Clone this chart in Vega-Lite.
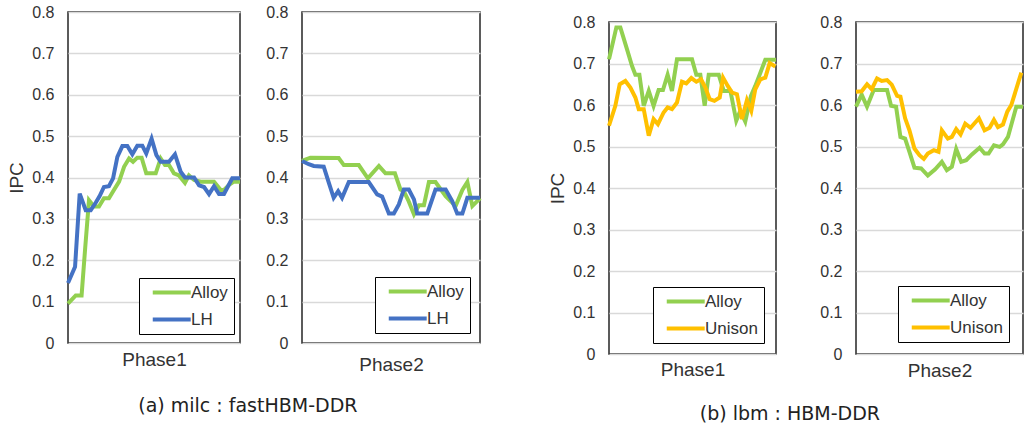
{
  "$schema": "https://vega.github.io/schema/vega-lite/v6.json",
  "background": "white",
  "padding": {"left": 7, "top": 3, "right": 2, "bottom": 2},
  "datasets": {
    "p1": [
      {"s":"Alloy","t":0,"v":0.095},{"s":"Alloy","t":4.5,"v":0.115},{"s":"Alloy","t":7.9,"v":0.115},{"s":"Alloy","t":10,"v":0.23},{"s":"Alloy","t":12.2,"v":0.345},{"s":"Alloy","t":15.1,"v":0.33},{"s":"Alloy","t":18,"v":0.33},{"s":"Alloy","t":20.9,"v":0.35},{"s":"Alloy","t":23.8,"v":0.35},{"s":"Alloy","t":26.7,"v":0.37},{"s":"Alloy","t":29.7,"v":0.39},{"s":"Alloy","t":32.6,"v":0.426},{"s":"Alloy","t":35.5,"v":0.446},{"s":"Alloy","t":37.8,"v":0.438},{"s":"Alloy","t":40.3,"v":0.448},{"s":"Alloy","t":42.8,"v":0.448},{"s":"Alloy","t":45.5,"v":0.41},{"s":"Alloy","t":51,"v":0.41},{"s":"Alloy","t":53.9,"v":0.446},{"s":"Alloy","t":56.4,"v":0.43},{"s":"Alloy","t":58.7,"v":0.43},{"s":"Alloy","t":61.6,"v":0.41},{"s":"Alloy","t":64.5,"v":0.405},{"s":"Alloy","t":68,"v":0.387},{"s":"Alloy","t":70.3,"v":0.405},{"s":"Alloy","t":73.3,"v":0.394},{"s":"Alloy","t":77.1,"v":0.39},{"s":"Alloy","t":84.9,"v":0.39},{"s":"Alloy","t":88.8,"v":0.37},{"s":"Alloy","t":90.7,"v":0.37},{"s":"Alloy","t":93.6,"v":0.382},{"s":"Alloy","t":96.5,"v":0.39},{"s":"Alloy","t":100,"v":0.39},
      {"s":"LH","t":0,"v":0.145},{"s":"LH","t":4.1,"v":0.184},{"s":"LH","t":6.8,"v":0.361},{"s":"LH","t":10.3,"v":0.321},{"s":"LH","t":13.2,"v":0.321},{"s":"LH","t":16.1,"v":0.339},{"s":"LH","t":18.4,"v":0.355},{"s":"LH","t":20.9,"v":0.377},{"s":"LH","t":23.8,"v":0.379},{"s":"LH","t":26.2,"v":0.398},{"s":"LH","t":28.7,"v":0.45},{"s":"LH","t":31.6,"v":0.476},{"s":"LH","t":34.5,"v":0.476},{"s":"LH","t":37.4,"v":0.456},{"s":"LH","t":40.3,"v":0.477},{"s":"LH","t":43.2,"v":0.477},{"s":"LH","t":45.5,"v":0.458},{"s":"LH","t":48.6,"v":0.494},{"s":"LH","t":51.4,"v":0.454},{"s":"LH","t":53.9,"v":0.438},{"s":"LH","t":58.7,"v":0.438},{"s":"LH","t":62.2,"v":0.456},{"s":"LH","t":65.5,"v":0.414},{"s":"LH","t":68,"v":0.4},{"s":"LH","t":73.3,"v":0.4},{"s":"LH","t":76.2,"v":0.381},{"s":"LH","t":79.1,"v":0.377},{"s":"LH","t":82,"v":0.36},{"s":"LH","t":84.9,"v":0.379},{"s":"LH","t":87.8,"v":0.36},{"s":"LH","t":90.7,"v":0.36},{"s":"LH","t":95.5,"v":0.398},{"s":"LH","t":100,"v":0.398}
    ],
    "p2": [
      {"s":"Alloy","t":0,"v":0.44},{"s":"Alloy","t":4.7,"v":0.448},{"s":"Alloy","t":20.6,"v":0.447},{"s":"Alloy","t":23.5,"v":0.43},{"s":"Alloy","t":31.9,"v":0.43},{"s":"Alloy","t":37,"v":0.398},{"s":"Alloy","t":43.2,"v":0.428},{"s":"Alloy","t":46.9,"v":0.41},{"s":"Alloy","t":52.2,"v":0.41},{"s":"Alloy","t":55.3,"v":0.371},{"s":"Alloy","t":57.2,"v":0.367},{"s":"Alloy","t":59.7,"v":0.345},{"s":"Alloy","t":62.9,"v":0.311},{"s":"Alloy","t":65.7,"v":0.333},{"s":"Alloy","t":68.5,"v":0.333},{"s":"Alloy","t":71.3,"v":0.389},{"s":"Alloy","t":75,"v":0.389},{"s":"Alloy","t":80.7,"v":0.355},{"s":"Alloy","t":86.3,"v":0.331},{"s":"Alloy","t":90.1,"v":0.37},{"s":"Alloy","t":92.9,"v":0.389},{"s":"Alloy","t":95.7,"v":0.331},{"s":"Alloy","t":99.4,"v":0.347},{"s":"Alloy","t":100,"v":0.35},
      {"s":"LH","t":0,"v":0.44},{"s":"LH","t":3.8,"v":0.432},{"s":"LH","t":6.6,"v":0.428},{"s":"LH","t":12.2,"v":0.426},{"s":"LH","t":15,"v":0.388},{"s":"LH","t":17.8,"v":0.351},{"s":"LH","t":20.3,"v":0.367},{"s":"LH","t":22.5,"v":0.351},{"s":"LH","t":26.3,"v":0.389},{"s":"LH","t":37.5,"v":0.389},{"s":"LH","t":42.2,"v":0.359},{"s":"LH","t":45,"v":0.354},{"s":"LH","t":48.8,"v":0.313},{"s":"LH","t":51.6,"v":0.313},{"s":"LH","t":54.4,"v":0.335},{"s":"LH","t":57.2,"v":0.371},{"s":"LH","t":60,"v":0.371},{"s":"LH","t":62.9,"v":0.347},{"s":"LH","t":64.7,"v":0.313},{"s":"LH","t":70.4,"v":0.313},{"s":"LH","t":75,"v":0.371},{"s":"LH","t":80.7,"v":0.371},{"s":"LH","t":84.4,"v":0.343},{"s":"LH","t":87.2,"v":0.313},{"s":"LH","t":90.1,"v":0.313},{"s":"LH","t":92.9,"v":0.351},{"s":"LH","t":100,"v":0.351}
    ],
    "p3": [
      {"s":"Alloy","t":0,"v":0.71},{"s":"Alloy","t":4.4,"v":0.787},{"s":"Alloy","t":6.8,"v":0.787},{"s":"Alloy","t":10.8,"v":0.734},{"s":"Alloy","t":13.8,"v":0.694},{"s":"Alloy","t":15.8,"v":0.673},{"s":"Alloy","t":18.2,"v":0.673},{"s":"Alloy","t":20.8,"v":0.598},{"s":"Alloy","t":23.8,"v":0.634},{"s":"Alloy","t":26.7,"v":0.598},{"s":"Alloy","t":29.7,"v":0.636},{"s":"Alloy","t":32.3,"v":0.636},{"s":"Alloy","t":35.1,"v":0.673},{"s":"Alloy","t":37.7,"v":0.634},{"s":"Alloy","t":40.7,"v":0.71},{"s":"Alloy","t":49.7,"v":0.71},{"s":"Alloy","t":52.3,"v":0.673},{"s":"Alloy","t":54.7,"v":0.673},{"s":"Alloy","t":57.3,"v":0.598},{"s":"Alloy","t":59.7,"v":0.673},{"s":"Alloy","t":65.7,"v":0.673},{"s":"Alloy","t":68.7,"v":0.634},{"s":"Alloy","t":72.7,"v":0.634},{"s":"Alloy","t":76.2,"v":0.562},{"s":"Alloy","t":78.6,"v":0.586},{"s":"Alloy","t":81.6,"v":0.56},{"s":"Alloy","t":85,"v":0.622},{"s":"Alloy","t":87.6,"v":0.646},{"s":"Alloy","t":90.2,"v":0.673},{"s":"Alloy","t":93.6,"v":0.709},{"s":"Alloy","t":100,"v":0.709},
      {"s":"Unison","t":0,"v":0.55},{"s":"Unison","t":3.8,"v":0.598},{"s":"Unison","t":6.4,"v":0.65},{"s":"Unison","t":9.8,"v":0.658},{"s":"Unison","t":12.8,"v":0.642},{"s":"Unison","t":15.8,"v":0.618},{"s":"Unison","t":17.8,"v":0.59},{"s":"Unison","t":20.8,"v":0.59},{"s":"Unison","t":23.8,"v":0.526},{"s":"Unison","t":26.7,"v":0.566},{"s":"Unison","t":29.3,"v":0.554},{"s":"Unison","t":32.7,"v":0.582},{"s":"Unison","t":35.1,"v":0.594},{"s":"Unison","t":37.7,"v":0.59},{"s":"Unison","t":40.7,"v":0.606},{"s":"Unison","t":43.7,"v":0.656},{"s":"Unison","t":46.3,"v":0.652},{"s":"Unison","t":49.3,"v":0.665},{"s":"Unison","t":52.3,"v":0.656},{"s":"Unison","t":55.1,"v":0.662},{"s":"Unison","t":57.7,"v":0.642},{"s":"Unison","t":60.3,"v":0.614},{"s":"Unison","t":63.1,"v":0.61},{"s":"Unison","t":66.3,"v":0.618},{"s":"Unison","t":68.3,"v":0.666},{"s":"Unison","t":71.1,"v":0.646},{"s":"Unison","t":73.7,"v":0.63},{"s":"Unison","t":76.6,"v":0.626},{"s":"Unison","t":79.6,"v":0.566},{"s":"Unison","t":82.6,"v":0.612},{"s":"Unison","t":85.2,"v":0.586},{"s":"Unison","t":87.6,"v":0.638},{"s":"Unison","t":90.6,"v":0.662},{"s":"Unison","t":93.6,"v":0.666},{"s":"Unison","t":96.2,"v":0.701},{"s":"Unison","t":99.6,"v":0.693}
    ],
    "p4": [
      {"s":"Alloy","t":0,"v":0.596},{"s":"Alloy","t":3.4,"v":0.625},{"s":"Alloy","t":6.6,"v":0.596},{"s":"Alloy","t":10.6,"v":0.636},{"s":"Alloy","t":18.6,"v":0.636},{"s":"Alloy","t":21,"v":0.598},{"s":"Alloy","t":24,"v":0.596},{"s":"Alloy","t":26.6,"v":0.523},{"s":"Alloy","t":29.4,"v":0.519},{"s":"Alloy","t":32,"v":0.487},{"s":"Alloy","t":35,"v":0.449},{"s":"Alloy","t":39,"v":0.447},{"s":"Alloy","t":43,"v":0.43},{"s":"Alloy","t":47.4,"v":0.445},{"s":"Alloy","t":51.4,"v":0.463},{"s":"Alloy","t":54.4,"v":0.443},{"s":"Alloy","t":57.4,"v":0.451},{"s":"Alloy","t":60,"v":0.494},{"s":"Alloy","t":63,"v":0.463},{"s":"Alloy","t":66,"v":0.467},{"s":"Alloy","t":69.4,"v":0.481},{"s":"Alloy","t":74,"v":0.497},{"s":"Alloy","t":77,"v":0.483},{"s":"Alloy","t":79.4,"v":0.483},{"s":"Alloy","t":82.6,"v":0.503},{"s":"Alloy","t":86,"v":0.499},{"s":"Alloy","t":88,"v":0.505},{"s":"Alloy","t":91,"v":0.523},{"s":"Alloy","t":96,"v":0.596},{"s":"Alloy","t":100,"v":0.596},
      {"s":"Unison","t":0,"v":0.632},{"s":"Unison","t":3.4,"v":0.633},{"s":"Unison","t":6.6,"v":0.65},{"s":"Unison","t":9.4,"v":0.638},{"s":"Unison","t":12.6,"v":0.664},{"s":"Unison","t":15.4,"v":0.658},{"s":"Unison","t":18.6,"v":0.66},{"s":"Unison","t":21.4,"v":0.649},{"s":"Unison","t":24.6,"v":0.622},{"s":"Unison","t":26.6,"v":0.62},{"s":"Unison","t":29.4,"v":0.568},{"s":"Unison","t":32,"v":0.539},{"s":"Unison","t":35,"v":0.495},{"s":"Unison","t":38,"v":0.479},{"s":"Unison","t":40.6,"v":0.47},{"s":"Unison","t":43,"v":0.483},{"s":"Unison","t":46.6,"v":0.491},{"s":"Unison","t":49.4,"v":0.487},{"s":"Unison","t":51.4,"v":0.539},{"s":"Unison","t":55,"v":0.519},{"s":"Unison","t":57.4,"v":0.523},{"s":"Unison","t":60,"v":0.542},{"s":"Unison","t":62.6,"v":0.529},{"s":"Unison","t":65.4,"v":0.555},{"s":"Unison","t":68.6,"v":0.545},{"s":"Unison","t":73.6,"v":0.568},{"s":"Unison","t":77,"v":0.539},{"s":"Unison","t":80,"v":0.545},{"s":"Unison","t":82.6,"v":0.564},{"s":"Unison","t":85,"v":0.547},{"s":"Unison","t":88,"v":0.553},{"s":"Unison","t":90.6,"v":0.584},{"s":"Unison","t":93,"v":0.6},{"s":"Unison","t":99,"v":0.678}
    ]
  },
  "spacing": 59,
  "resolve": {"scale": {"color": "independent"}, "legend": {"color": "independent"}},
  "hconcat": [
    {
      "title": {"text": "(a) milc : fastHBM-DDR", "orient": "bottom", "anchor": "middle", "offset": 22},
      "spacing": 16,
      "resolve": {"scale": {"color": "independent"}, "legend": {"color": "independent"}},
      "hconcat": [
        {
          "width": 172, "height": 331,
          "data": {"name": "p1"},
          "mark": {"type": "line", "strokeWidth": 4},
          "encoding": {
            "x": {"field": "t", "type": "quantitative", "scale": {"domain": [0, 100], "nice": false}, "axis": {"labels": false, "ticks": false, "domain": false, "grid": false, "title": "Phase1", "titlePadding": 7}},
            "y": {"field": "v", "type": "quantitative", "scale": {"domain": [0, 0.8], "nice": false}, "axis": {"values": [0,0.1,0.2,0.3,0.4,0.5,0.6,0.7,0.8], "format": "~g", "title": "IPC", "titlePadding": 5}},
            "color": {"field": "s", "type": "nominal", "scale": {"domain": ["Alloy", "LH"], "range": ["#92D050", "#4472C4"]}, "legend": {"orient": "none", "legendX": 71, "legendY": 266}}
          }
        },
        {
          "width": 178, "height": 331,
          "data": {"name": "p2"},
          "mark": {"type": "line", "strokeWidth": 4},
          "encoding": {
            "x": {"field": "t", "type": "quantitative", "scale": {"domain": [0, 100], "nice": false}, "axis": {"labels": false, "ticks": false, "domain": false, "grid": false, "title": "Phase2", "titlePadding": 12}},
            "y": {"field": "v", "type": "quantitative", "scale": {"domain": [0, 0.8], "nice": false}, "axis": {"values": [0,0.1,0.2,0.3,0.4,0.5,0.6,0.7,0.8], "format": "~g", "title": null}},
            "color": {"field": "s", "type": "nominal", "scale": {"domain": ["Alloy", "LH"], "range": ["#92D050", "#4472C4"]}, "legend": {"orient": "none", "legendX": 73, "legendY": 265}}
          }
        }
      ]
    },
    {
      "title": {"text": "(b) lbm : HBM-DDR", "orient": "bottom", "anchor": "middle", "offset": 24},
      "spacing": 0,
      "vconcat": [
        {
          "width": 1, "height": 1,
          "data": {"values": []},
          "mark": {"type": "point", "opacity": 0},
          "encoding": {},
          "view": {"stroke": null}
        },
        {
          "spacing": 34,
          "resolve": {"scale": {"color": "independent"}, "legend": {"color": "independent"}},
          "hconcat": [
            {
              "width": 167, "height": 332,
              "data": {"name": "p3"},
              "mark": {"type": "line", "strokeWidth": 4},
              "encoding": {
                "x": {"field": "t", "type": "quantitative", "scale": {"domain": [0, 100], "nice": false}, "axis": {"labels": false, "ticks": false, "domain": false, "grid": false, "title": "Phase1", "titlePadding": 6}},
                "y": {"field": "v", "type": "quantitative", "scale": {"domain": [0, 0.8], "nice": false}, "axis": {"values": [0,0.1,0.2,0.3,0.4,0.5,0.6,0.7,0.8], "format": "~g", "title": "IPC", "titlePadding": 5}},
                "color": {"field": "s", "type": "nominal", "scale": {"domain": ["Alloy", "Unison"], "range": ["#92D050", "#FFC000"]}, "legend": {"orient": "none", "legendX": 44, "legendY": 265}}
              }
            },
            {
              "width": 167, "height": 332,
              "data": {"name": "p4"},
              "mark": {"type": "line", "strokeWidth": 4},
              "encoding": {
                "x": {"field": "t", "type": "quantitative", "scale": {"domain": [0, 100], "nice": false}, "axis": {"labels": false, "ticks": false, "domain": false, "grid": false, "title": "Phase2", "titlePadding": 7}},
                "y": {"field": "v", "type": "quantitative", "scale": {"domain": [0, 0.8], "nice": false}, "axis": {"values": [0,0.1,0.2,0.3,0.4,0.5,0.6,0.7,0.8], "format": "~g", "title": null}},
                "color": {"field": "s", "type": "nominal", "scale": {"domain": ["Alloy", "Unison"], "range": ["#92D050", "#FFC000"]}, "legend": {"orient": "none", "legendX": 42, "legendY": 264}}
              }
            }
          ]
        }
      ]
    }
  ],
  "config": {
    "view": {"stroke": "#262626", "strokeWidth": 1.5},
    "axis": {"labelFont": "Liberation Sans", "titleFont": "Liberation Sans", "labelColor": "#333333", "titleColor": "#333333", "titleFontWeight": "normal", "labelFontSize": 16, "titleFontSize": 19, "labelPadding": 14, "gridColor": "#d9d9d9", "gridWidth": 1.5},
    "axisY": {"grid": true, "ticks": false, "domain": false},
    "legend": {"title": null, "direction": "vertical", "symbolType": "M-1,0H7", "symbolStrokeWidth": 4, "symbolSize": 90, "symbolFillColor": "transparent", "labelFont": "Liberation Sans", "labelFontSize": 17, "labelColor": "#333333", "labelOffset": 25, "padding": 6, "symbolOffset": 4, "rowPadding": 9, "strokeColor": "#000000", "fillColor": "white"},
    "title": {"font": "DejaVu Sans", "fontSize": 19, "fontWeight": "normal", "color": "#222222"}
  }
}
